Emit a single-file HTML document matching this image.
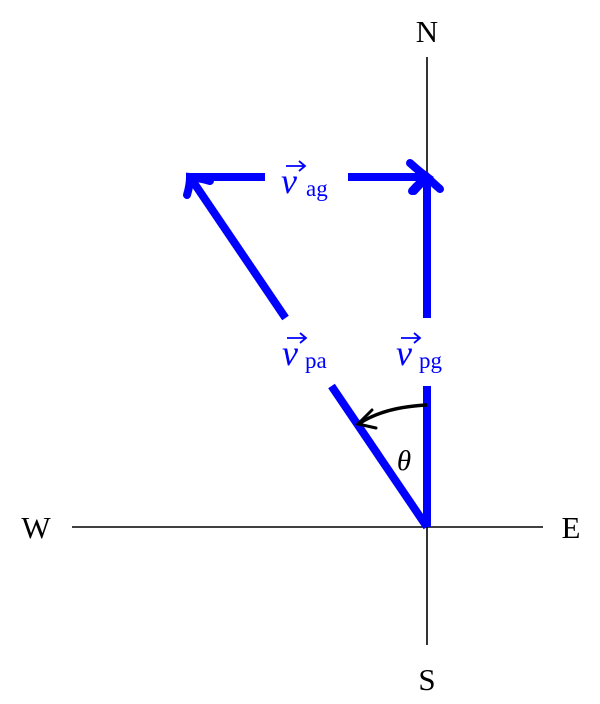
<!DOCTYPE html>
<html><head><style>body{margin:0;background:#fff}svg{display:block}</style></head><body>
<svg width="600" height="704" viewBox="0 0 600 704" xmlns="http://www.w3.org/2000/svg" font-family="Liberation Serif, serif">
<line x1="72" y1="527" x2="543" y2="527" stroke="#000" stroke-width="1.6"/>
<line x1="427" y1="57" x2="427" y2="645" stroke="#000" stroke-width="1.6"/>
<rect x="390" y="318" width="70" height="68" fill="#fff"/>
<text x="427" y="42" font-size="31" text-anchor="middle">N</text>
<text x="427" y="690" font-size="31" text-anchor="middle">S</text>
<text x="36" y="538" font-size="31" text-anchor="middle">W</text>
<text x="571" y="538" font-size="31" text-anchor="middle">E</text>
<g stroke="#0000ff" stroke-width="8" fill="none" stroke-linecap="butt">
<line x1="427" y1="527" x2="427" y2="386"/>
<line x1="427" y1="318" x2="427" y2="180"/>
<line x1="427" y1="527" x2="331.5" y2="386"/>
<line x1="285.5" y1="318" x2="192" y2="180"/>
<line x1="190" y1="177" x2="265" y2="177"/>
<line x1="348" y1="177" x2="424" y2="177"/>
<path d="M410 163 Q420 172 427 177 Q420 182 412 191" stroke-linecap="round"/>
<path d="M414 191 Q422 182 427 177 Q432 182 440 189" stroke-linecap="round"/>
<path d="M187 195 Q190 185 190 177 Q200 178 210 181" stroke-linecap="round"/>
</g>
<path d="M427 405 Q385 407 360 423" stroke="#000" stroke-width="3.5" fill="none"/>
<path d="M372 410 L358 424 L376 428" stroke="#000" stroke-width="3" fill="none" stroke-linecap="round"/>
<text x="404" y="470" font-size="29" font-style="italic" text-anchor="middle">θ</text>
<g fill="#0000ff" font-size="36">
<text x="281" y="193" font-style="italic">v</text><text x="306" y="196" font-size="23">ag</text>
<text x="282" y="365" font-style="italic">v</text><text x="305" y="368" font-size="23">pa</text>
<text x="396" y="365" font-style="italic">v</text><text x="419" y="368" font-size="23">pg</text>
</g>
<g stroke="#0000ff" stroke-width="1.8" fill="none">
<path d="M286 166 H304 M299 161 L305 166 L299 171"/>
<path d="M287 338 H305 M300 333 L306 338 L300 343"/>
<path d="M401 338 H419 M414 333 L420 338 L414 343"/>
</g>
</svg>
</body></html>
